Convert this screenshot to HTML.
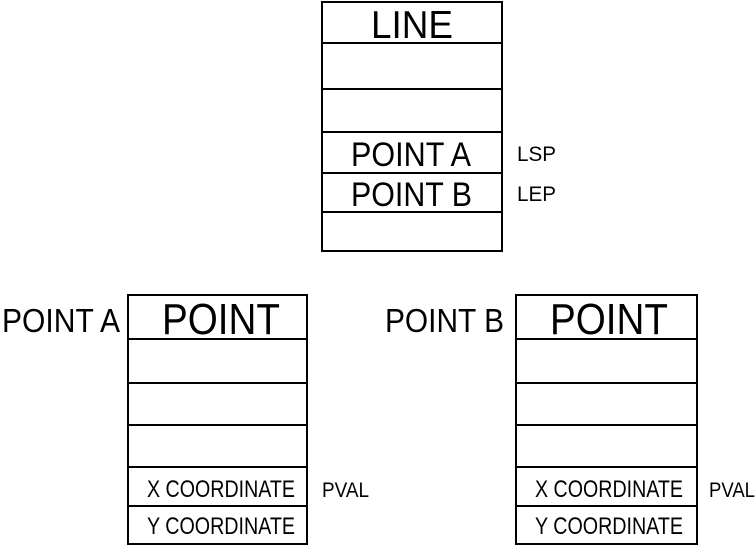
<!DOCTYPE html>
<html><head><style>html,body{margin:0;padding:0;background:#fff;}</style></head>
<body>
<svg width="756" height="548" viewBox="0 0 756 548" xmlns="http://www.w3.org/2000/svg" font-family="Liberation Sans, sans-serif" fill="#000">
<g stroke="#000" stroke-width="2" fill="none">
<rect x="322" y="2" width="180" height="249"/>
<line x1="322" y1="43" x2="502" y2="43"/>
<line x1="322" y1="89" x2="502" y2="89"/>
<line x1="322" y1="132" x2="502" y2="132"/>
<line x1="322" y1="173" x2="502" y2="173"/>
<line x1="322" y1="212" x2="502" y2="212"/>
<rect x="128" y="295" width="179" height="249"/>
<line x1="128" y1="339" x2="307" y2="339"/>
<line x1="128" y1="383" x2="307" y2="383"/>
<line x1="128" y1="425" x2="307" y2="425"/>
<line x1="128" y1="467" x2="307" y2="467"/>
<line x1="128" y1="506" x2="307" y2="506"/>
<rect x="516" y="295" width="181" height="249"/>
<line x1="516" y1="339" x2="697" y2="339"/>
<line x1="516" y1="383" x2="697" y2="383"/>
<line x1="516" y1="425" x2="697" y2="425"/>
<line x1="516" y1="467" x2="697" y2="467"/>
<line x1="516" y1="506" x2="697" y2="506"/>
</g>
<text x="371" y="38" font-size="39" textLength="82" lengthAdjust="spacingAndGlyphs">LINE</text>
<text x="351" y="166" font-size="34" textLength="120" lengthAdjust="spacingAndGlyphs">POINT A</text>
<text x="351" y="206" font-size="34" textLength="121" lengthAdjust="spacingAndGlyphs">POINT B</text>
<text x="517" y="161" font-size="21" textLength="39" lengthAdjust="spacingAndGlyphs">LSP</text>
<text x="517" y="201" font-size="21" textLength="39" lengthAdjust="spacingAndGlyphs">LEP</text>
<text x="2" y="332" font-size="33" textLength="118" lengthAdjust="spacingAndGlyphs">POINT A</text>
<text x="162" y="334" font-size="44" textLength="118" lengthAdjust="spacingAndGlyphs">POINT</text>
<text x="147" y="497" font-size="24" textLength="148" lengthAdjust="spacingAndGlyphs">X COORDINATE</text>
<text x="147" y="534" font-size="24" textLength="148" lengthAdjust="spacingAndGlyphs">Y COORDINATE</text>
<text x="322" y="497" font-size="21" textLength="47" lengthAdjust="spacingAndGlyphs">PVAL</text>
<text x="385" y="332" font-size="33" textLength="119" lengthAdjust="spacingAndGlyphs">POINT B</text>
<text x="550" y="334" font-size="44" textLength="118" lengthAdjust="spacingAndGlyphs">POINT</text>
<text x="535" y="497" font-size="24" textLength="148" lengthAdjust="spacingAndGlyphs">X COORDINATE</text>
<text x="535" y="534" font-size="24" textLength="148" lengthAdjust="spacingAndGlyphs">Y COORDINATE</text>
<text x="709" y="497" font-size="21" textLength="46" lengthAdjust="spacingAndGlyphs">PVAL</text>
</svg>
</body></html>
